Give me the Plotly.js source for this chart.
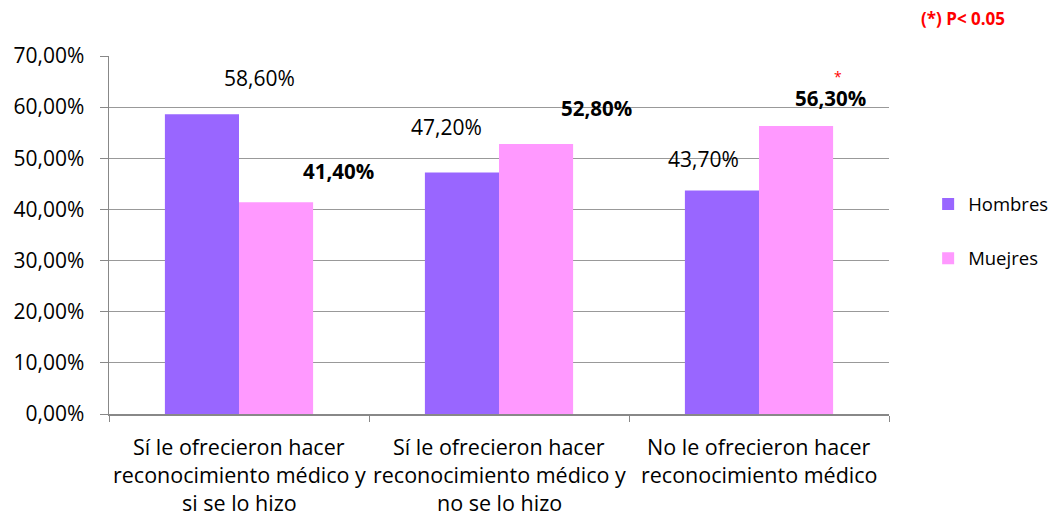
<!DOCTYPE html>
<html>
<head>
<meta charset="utf-8">
<script src="https://cdn.plot.ly/plotly-3.0.1.min.js"></script>
<style>
  html, body { margin: 0; padding: 0; background: #fff; }
  #chart { width: 1052px; height: 513px; }
</style>
</head>
<body>
<div id="chart"></div>
<script>
// Category labels, one entry per printed line
const categoryLines = [
  ["Sí le ofrecieron hacer", "reconocimiento médico y", "si se lo hizo"],
  ["Sí le ofrecieron hacer", "reconocimiento médico y", "no se lo hizo"],
  ["No le ofrecieron hacer", "reconocimiento médico"]
];
const categories = categoryLines.map(l => l.join(" "));

const seriesNames = ["Hombres", "Muejres"];
const hombres = [58.6, 47.2, 43.7];
const mujeres = [41.4, 52.8, 56.3];

const yTicks = [0, 10, 20, 30, 40, 50, 60, 70];

const FONT = "Open Sans, sans-serif";
const TXT = "#000";

function pct(v) { return v.toFixed(2).replace(".", ",") + "%"; }

const traces = [
  { type: "bar", name: seriesNames[0], x: categories, y: hombres,
    marker: { color: "#9966FF" }, legendgroup: "h", hoverinfo: "y" },
  { type: "bar", name: seriesNames[1], x: categories, y: mujeres,
    marker: { color: "#FF99FF" }, legendgroup: "m", hoverinfo: "y" }
];

// value labels: pixel offsets from the category centre / bar top
const hOff = [[20, 36], [-53, 46], [-56, 32]];
const mOff = [[99, 31], [97, 36], [71, 28]];

const annotations = [];
categories.forEach((c, i) => {
  annotations.push({ x: c, y: hombres[i], xref: "x", yref: "y",
    text: pct(hombres[i]), showarrow: false,
    xshift: hOff[i][0], yshift: hOff[i][1],
    font: { family: FONT, size: 21, color: TXT } });
  annotations.push({ x: c, y: mujeres[i], xref: "x", yref: "y",
    text: "<b>" + pct(mujeres[i]) + "</b>", showarrow: false,
    xshift: mOff[i][0], yshift: mOff[i][1],
    font: { family: FONT, size: 20.5, color: TXT } });
  // category label lines under the axis
  categoryLines[i].forEach((line, k) => {
    annotations.push({ x: c, y: 0, xref: "x", yref: "paper",
      text: line, showarrow: false, yanchor: "middle",
      yshift: -32 - 28 * k,
      font: { family: FONT, size: 21.5, color: TXT } });
  });
});

// significance marker over the last women's bar
annotations.push({ x: categories[2], y: mujeres[2], xref: "x", yref: "y",
  text: "*", showarrow: false, xshift: 79, yshift: 50,
  font: { family: FONT, size: 14, color: "#FF0000" } });

// significance note
annotations.push({ x: 1.095, y: 1.0, xref: "paper", yref: "paper",
  text: "<b>(*) P< 0.05</b>", showarrow: false, xanchor: "center",
  yanchor: "middle", yshift: 38,
  font: { family: FONT, size: 17, color: "#FF0000" } });

const layout = {
  width: 1052, height: 513,
  margin: { l: 109, r: 163, t: 56, b: 99, autoexpand: false },
  paper_bgcolor: "#fff", plot_bgcolor: "#fff",
  barmode: "group", bargap: 0.43, bargroupgap: 0,
  font: { family: FONT, size: 18, color: TXT },
  showlegend: true,
  legend: {
    x: 1.063, y: 0.638, xanchor: "left", yanchor: "top",
    traceorder: "grouped", tracegroupgap: 27, indentation: -10,
    font: { family: FONT, size: 18.5, color: TXT },
    bgcolor: "rgba(0,0,0,0)"
  },
  xaxis: {
    type: "category", showticklabels: false,
    ticks: "outside", tickson: "boundaries", ticklen: 6,
    tickcolor: "#888", showline: true, linecolor: "#888", linewidth: 1.5,
    showgrid: false, zeroline: false, fixedrange: true
  },
  yaxis: {
    range: [0, 70], tickmode: "array", tickvals: yTicks,
    ticktext: yTicks.map(pct),
    ticks: "outside", ticklen: 8, tickcolor: "#888", ticklabelstandoff: 11,
    showline: true, linecolor: "#888", linewidth: 1.5,
    showgrid: true, gridcolor: "#999", gridwidth: 1.2,
    zeroline: false, fixedrange: true,
    tickfont: { family: FONT, size: 21, color: TXT }
  },
  annotations: annotations
};

Plotly.newPlot("chart", traces, layout, { displayModeBar: false, staticPlot: true });
</script>
</body>
</html>
